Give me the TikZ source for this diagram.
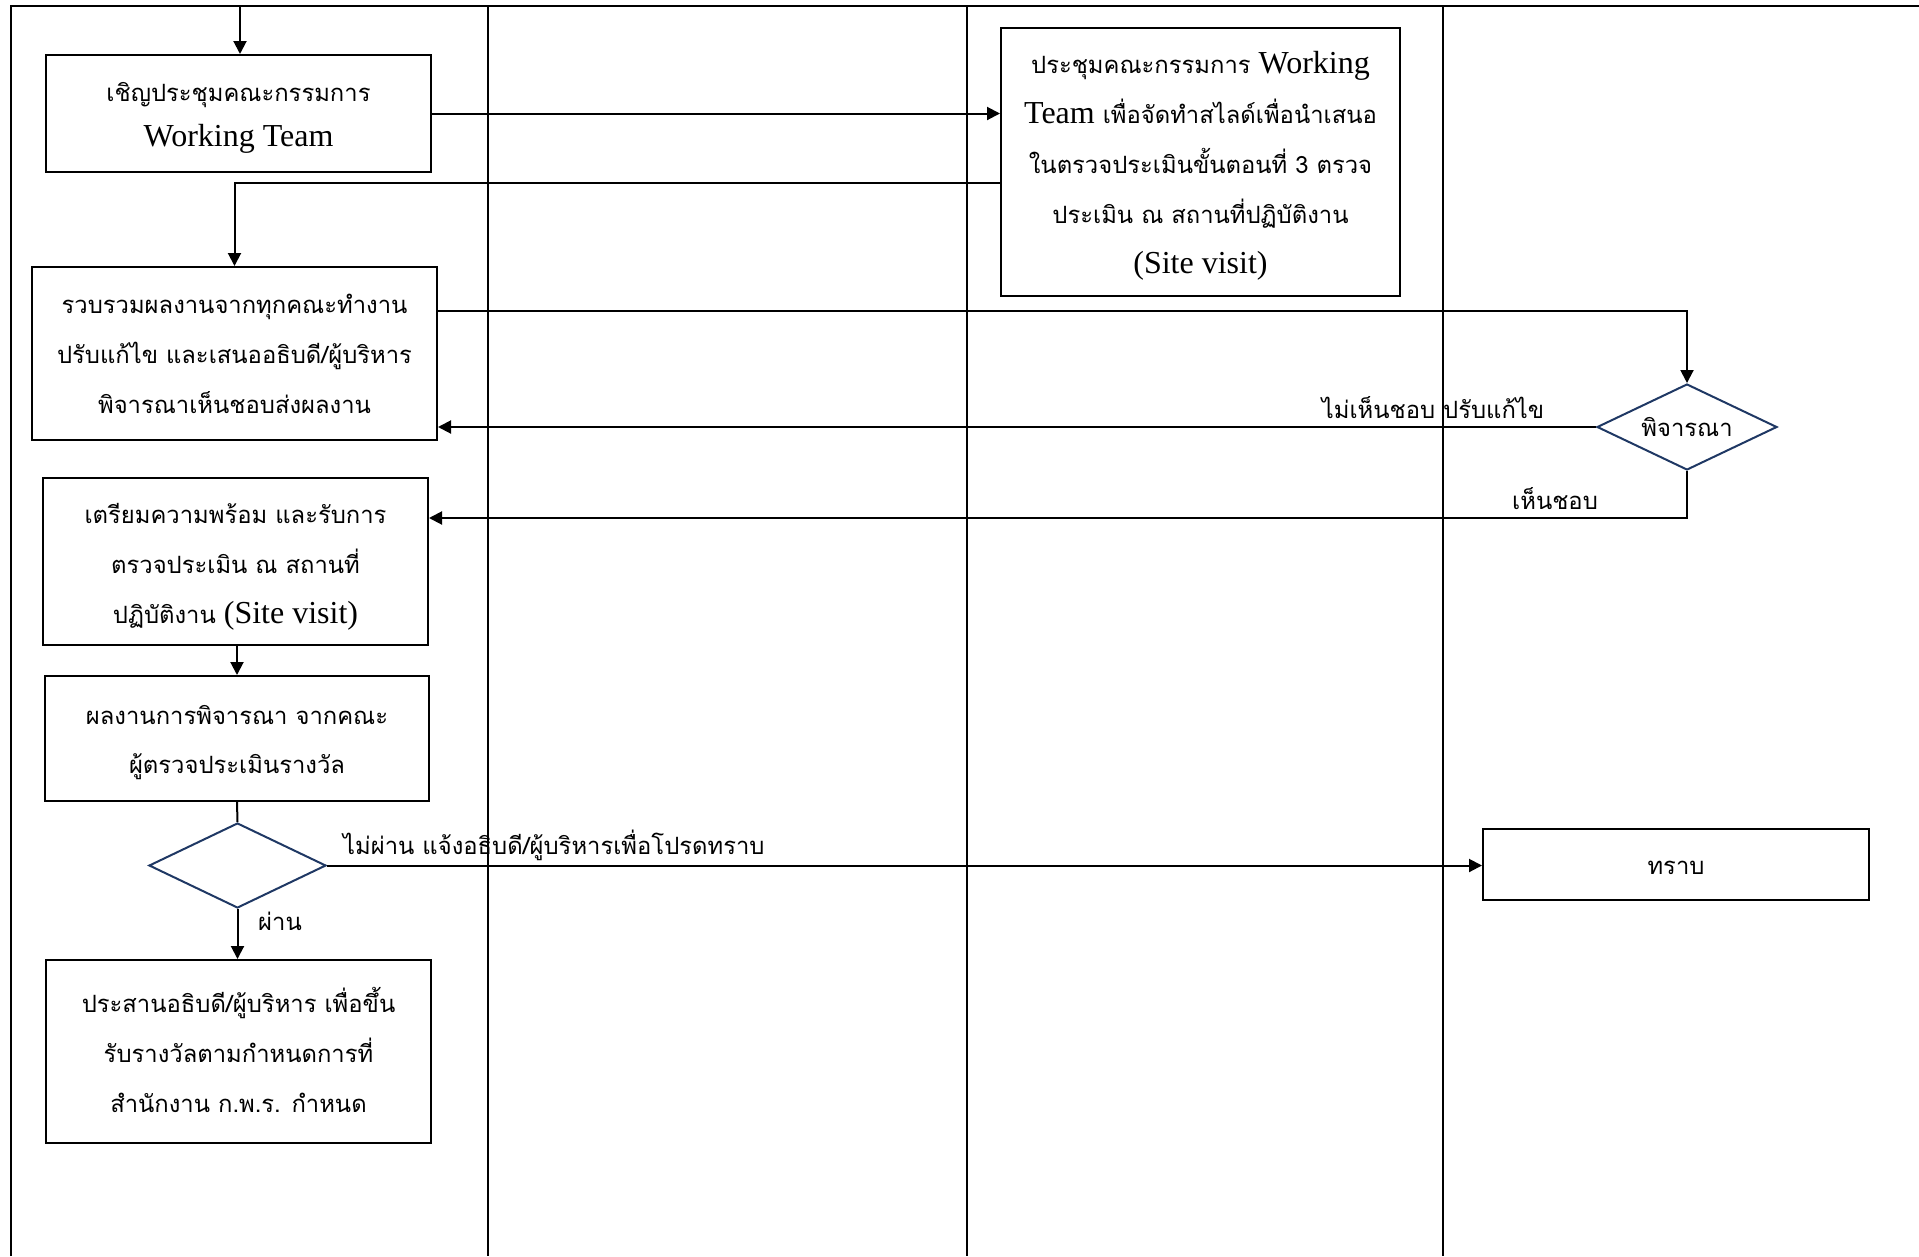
\documentclass[tikz,border=0pt]{standalone}
\usepackage{fontspec}
\setmainfont{Liberation Serif}
\newfontfamily\thaifont[Script=Thai]{Loma}
\usetikzlibrary{arrows.meta,shapes.geometric}
\definecolor{navy}{RGB}{31,56,100}
\newcommand\thsz{\fontsize{23.8}{50}\selectfont}
\newcommand\latn[1]{{\rmfamily\fontsize{32}{50}\selectfont #1}}
\tikzset{
  box/.style={draw, line width=2pt, inner sep=0pt},
  txt/.style={inner sep=0pt, align=center, font=\thaifont\thsz},
  dia/.style={diamond, draw=navy, line width=2pt, inner sep=0pt, aspect=2.1, font=\thaifont\thsz},
  lane/.style={line width=2pt},
  arr/.style={line width=2pt, -{Triangle[length=13pt,width=13pt]}},
  conn/.style={line width=2pt},
  lbl/.style={inner sep=0pt, font=\thaifont\thsz}
}
\begin{document}
\begin{tikzpicture}[x=1pt,y=-1pt]
\useasboundingbox (0,0) rectangle (1919,1256);
% lanes
\draw[lane] (11,1256) -- (11,6) -- (1919,6);
\draw[lane] (488,6) -- (488,1256);
\draw[lane] (967,6) -- (967,1256);
\draw[lane] (1443,6) -- (1443,1256);
% boxes
\node[box, minimum width=385pt, minimum height=117pt] (b1) at (238.5,113.5) {};
\node[txt] (b1t) at ([yshift=-4pt]b1.center)
  {เชิญประชุมคณะกรรมการ\\[-5pt] \latn{Working Team}};
\node[box, minimum width=399pt, minimum height=268pt] (bW) at (1200.5,162) {};
\node[txt] (bWt) at ([yshift=-4pt]bW.center)
  {ประชุมคณะกรรมการ \latn{Working}\\ \latn{Team} เพื่อจัดทำสไลด์เพื่อนำเสนอ\\ ในตรวจประเมินขั้นตอนที่ 3 ตรวจ\\ ประเมิน ณ สถานที่ปฏิบัติงาน\\ \latn{(Site visit)}};
\node[box, minimum width=405pt, minimum height=173pt] (b2) at (234.5,353.5) {};
\node[txt] (b2t) at (b2.center)
  {รวบรวมผลงานจากทุกคณะทำงาน\\ ปรับแก้ไข และเสนออธิบดี/ผู้บริหาร\\ พิจารณาเห็นชอบส่งผลงาน};
\node[box, minimum width=385pt, minimum height=167pt] (b3) at (235.5,561.5) {};
\node[txt] (b3t) at ([yshift=-5pt]b3.center)
  {เตรียมความพร้อม และรับการ\\ ตรวจประเมิน ณ สถานที่\\ ปฏิบัติงาน \latn{(Site visit)}};
\node[box, minimum width=384pt, minimum height=125pt] (b4) at (237,738.5) {};
\node[txt] (b4t) at ([yshift=-4pt]b4.center)
  {ผลงานการพิจารณา จากคณะ\\[-1pt] ผู้ตรวจประเมินรางวัล};
\node[dia, minimum width=177pt, minimum height=85pt] (d2) at (237.5,865.5) {};
\node[box, minimum width=385pt, minimum height=183pt] (b5) at (238.5,1051.5) {};
\node[txt] (b5t) at ([yshift=2pt]b5.center)
  {ประสานอธิบดี/ผู้บริหาร เพื่อขึ้น\\ รับรางวัลตามกำหนดการที่\\ สำนักงาน ก.พ.ร. กำหนด};
\node[box, minimum width=386pt, minimum height=71pt] (bT) at (1676,864.5) {};
\node[txt] (bTt) at ([yshift=-3pt]bT.center) {ทราบ};
\node[dia, minimum width=180pt, minimum height=86pt] (d1) at (1687,427) {พิจารณา};
% connectors
\coordinate (start) at (240,6);
\draw[arr] (start) -- (start |- b1.north);
\draw[arr] (b1.east) -- (b1.east -| bW.west);
\draw[arr] ([yshift=-21pt]bW.west) -| (b2.north);
\draw[arr] ([yshift=42.5pt]b2.east) -| (d1.north);
\draw[arr] (d1.west) -- (d1.west -| b2.east);
\draw[arr] (d1.south) |- ([yshift=43.5pt]b3.east);
\draw[arr] (b4.north |- b3.south) -- (b4.north);
\draw[conn] (b4.south) -- (d2.north);
\draw[arr] (d2.east) -- (d2.east -| bT.west);
\draw[arr] (d2.south) -- (d2.south |- b5.north);
% labels
\node[lbl, anchor=base] (l1) at (1433,418) {ไม่เห็นชอบ ปรับแก้ไข};
\node[lbl, anchor=base] (l2) at (1555,509) {เห็นชอบ};
\node[lbl, anchor=base west] (l3) at (343,854) {ไม่ผ่าน แจ้งอธิบดี/ผู้บริหารเพื่อโปรดทราบ};
\node[lbl, anchor=base west] (l4) at (258,930) {ผ่าน};
\end{tikzpicture}
\end{document}
